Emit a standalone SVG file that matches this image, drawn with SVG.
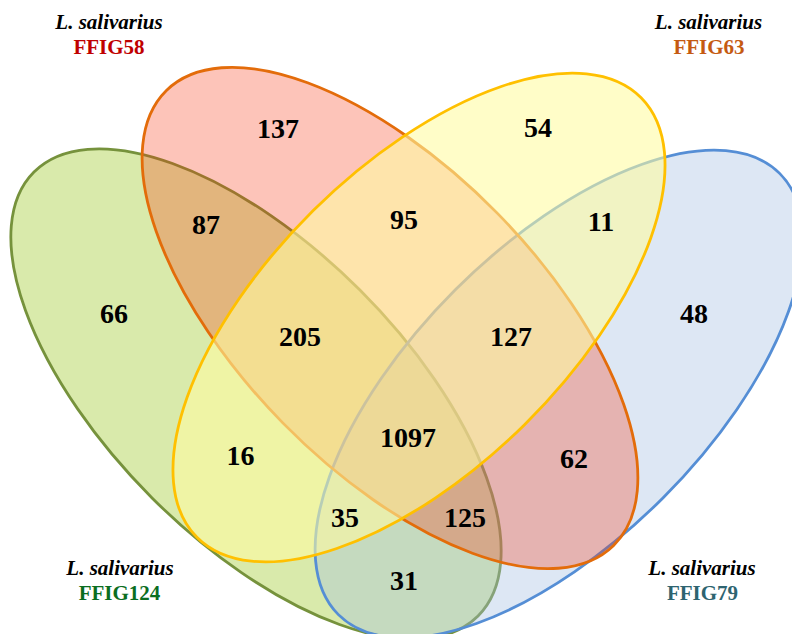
<svg xmlns="http://www.w3.org/2000/svg" width="792" height="634" viewBox="0 0 792 634">
<style>
.set{stroke-width:2.8}
.n{font-family:"Liberation Serif","Times New Roman",serif;font-weight:bold;font-size:28px;text-anchor:middle;fill:#000}
.sp{font-family:"Liberation Serif","Times New Roman",serif;font-weight:bold;font-style:italic;font-size:21px;text-anchor:middle;fill:#000}
.id{font-family:"Liberation Serif","Times New Roman",serif;font-weight:bold;font-size:21px;text-anchor:middle}
</style>
<rect width="792" height="634" fill="#ffffff"/>
<g id="set-FFIG124">
<ellipse class="set" cx="256" cy="394" rx="314" ry="147" transform="rotate(45 256 394)" fill="#d9eaab" stroke="#76923c"/>
<text class="sp" x="120" y="575">L. salivarius</text>
<text class="id" x="119.5" y="600" fill="#0b6e1f">FFIG124</text>
</g>
<g id="set-FFIG79">
<ellipse class="set" cx="559" cy="394" rx="312" ry="147" transform="rotate(-45 559 394)" fill="rgb(163,190,225)" fill-opacity="0.37" stroke="#558ed5"/>
<text class="sp" x="702" y="575">L. salivarius</text>
<text class="id" x="702.5" y="600" fill="#2e6470">FFIG79</text>
</g>
<g id="set-FFIG58">
<ellipse class="set" cx="390" cy="318" rx="319" ry="150" transform="rotate(45.5 390 318)" fill="rgb(248,52,14)" fill-opacity="0.29" stroke="#e36c0a"/>
<text class="sp" x="109" y="29">L. salivarius</text>
<text class="id" x="109" y="54" fill="#c00000">FFIG58</text>
</g>
<g id="set-FFIG63">
<ellipse class="set" cx="419" cy="317.5" rx="312.5" ry="150.4" transform="rotate(-44.7 419 317.5)" fill="rgb(255,252,160)" fill-opacity="0.58" stroke="#ffc000"/>
<text class="sp" x="708.5" y="29">L. salivarius</text>
<text class="id" x="709" y="54" fill="#c55a11">FFIG63</text>
</g>
<g id="counts">
<text class="n" x="278" y="138">137</text>
<text class="n" x="538" y="137">54</text>
<text class="n" x="206" y="234">87</text>
<text class="n" x="404" y="229">95</text>
<text class="n" x="601" y="231">11</text>
<text class="n" x="114" y="323">66</text>
<text class="n" x="694" y="323">48</text>
<text class="n" x="300" y="346">205</text>
<text class="n" x="511" y="346">127</text>
<text class="n" x="408" y="447">1097</text>
<text class="n" x="240.5" y="465">16</text>
<text class="n" x="574" y="468">62</text>
<text class="n" x="345" y="527">35</text>
<text class="n" x="465" y="527">125</text>
<text class="n" x="404" y="590">31</text>
</g>
<g id="connectors"/>
</svg>
